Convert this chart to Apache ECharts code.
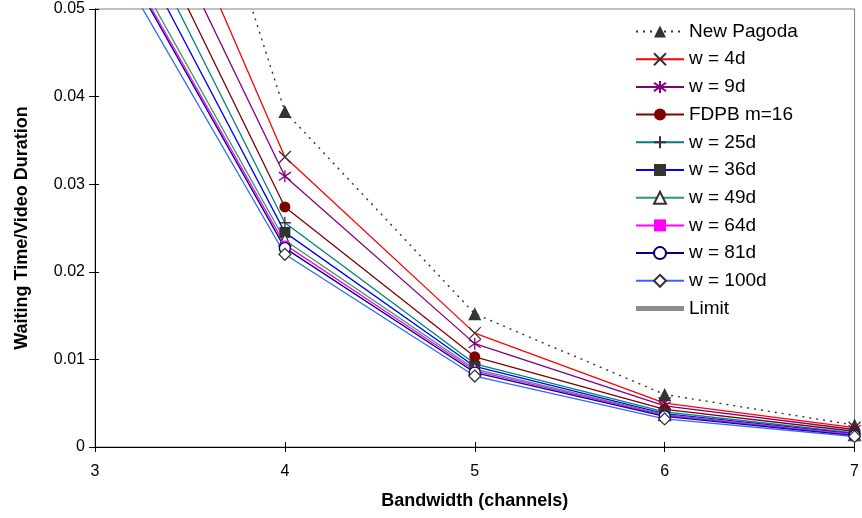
<!DOCTYPE html>
<html>
<head>
<meta charset="utf-8">
<title>Waiting time vs bandwidth</title>
<script src="https://cdn.jsdelivr.net/npm/echarts@6/dist/echarts.min.js"></script>
<style>
  html, body { margin: 0; padding: 0; background: #fff; }
  #chart { width: 862px; height: 518px; }
</style>
</head>
<body>
<div id="chart"></div>
<script>
// Bandwidth in channels
const bandwidth = [3, 4, 5, 6, 7];

// Waiting time / video duration for each scheme
const newPagoda = [0.106, 0.0383, 0.0152, 0.0060, 0.0025];
const w4d      = [0.0832, 0.0331, 0.0130, 0.0050, 0.0022];
const w9d      = [0.0758, 0.0309, 0.0118, 0.0047, 0.0020];
const fdpb16   = [0.0718, 0.0274, 0.0103, 0.0043, 0.0018];
const w25d     = [0.0688, 0.0256, 0.0095, 0.0040, 0.0016];
const w36d     = [0.0658, 0.0245, 0.0092, 0.0038, 0.0015];
const w49d     = [0.0624, 0.0236, 0.0089, 0.0037, 0.0014];
const w64d     = [0.0615, 0.0231, 0.0087, 0.0036, 0.0014];
const w81d     = [0.0612, 0.0227, 0.0085, 0.0035, 0.0013];
const w100d    = [0.0594, 0.0220, 0.0081, 0.0032, 0.0012];
const limit    = [];

const yTicks = { min: 0, max: 0.05, interval: 0.01 };
const xTicks = { min: 3, max: 7, interval: 1 };

const FONT = '"Liberation Sans", Arial, sans-serif';

const CROSS = 'path://M0,0L10,10M10,0L0,10';
const ASTER = 'path://M5,0L5,10M1.5,1.5L8.5,8.5M8.5,1.5L1.5,8.5';
const PLUS = 'path://M5,0L5,10M0,5L10,5';

function pts(values) {
  return values.map((v, i) => [bandwidth[i], v]);
}

function mk(name, values, lineColor, symbol, size, item, lineExtra) {
  return {
    name: name,
    type: 'line',
    data: pts(values),
    symbol: symbol,
    symbolSize: size,
    clip: true,
    lineStyle: Object.assign({ color: lineColor, width: 1.3 }, lineExtra || {}),
    itemStyle: item,
    emphasis: { disabled: true },
    animation: false
  };
}

const series = [
  mk('New Pagoda', newPagoda, '#333333', 'triangle', 13,
     { color: '#333333', borderWidth: 0 }, { type: [2, 5], width: 1.4 }),
  mk('w = 4d', w4d, '#ff0000', CROSS, 12,
     { color: 'none', borderColor: '#333333', borderWidth: 1.3 }),
  mk('w = 9d', w9d, '#800080', ASTER, 12,
     { color: 'none', borderColor: '#800080', borderWidth: 1.3 }),
  mk('FDPB m=16', fdpb16, '#800000', 'circle', 11,
     { color: '#800000', borderWidth: 0 }),
  mk('w = 25d', w25d, '#008080', PLUS, 12,
     { color: 'none', borderColor: '#333333', borderWidth: 1.3 }),
  mk('w = 36d', w36d, '#0000ff', 'rect', 11,
     { color: '#333333', borderWidth: 0 }),
  mk('w = 49d', w49d, '#339966', 'triangle', 12,
     { color: '#ffffff', borderColor: '#333333', borderWidth: 1.2 }),
  mk('w = 64d', w64d, '#ff00ff', 'rect', 8,
     { color: '#ff00ff', borderWidth: 0 }),
  mk('w = 81d', w81d, '#000080', 'circle', 11,
     { color: '#ffffff', borderColor: '#000080', borderWidth: 1.3 }),
  mk('w = 100d', w100d, '#3366ff', 'diamond', 12,
     { color: '#ffffff', borderColor: '#333333', borderWidth: 1.2 }),
  {
    name: 'Limit',
    type: 'line',
    data: pts(limit),
    symbol: 'none',
    lineStyle: { color: '#8c8c8c', width: 5 },
    itemStyle: { color: '#8c8c8c' },
    animation: false
  }
];

const legendNames = series.map(s => s.name);

const chart = echarts.init(document.getElementById('chart'), null, { renderer: 'canvas' });

chart.setOption({
  backgroundColor: '#ffffff',
  animation: false,
  grid: {
    left: 95, right: 6, top: 9, bottom: 71,
    show: true, borderColor: '#808080', borderWidth: 1,
    backgroundColor: 'transparent'
  },
  legend: {
    orient: 'vertical',
    left: 630, top: 17,
    itemWidth: 48, itemHeight: 15, itemGap: 8.7,
    textStyle: { fontFamily: FONT, fontSize: 19, color: '#000', padding: [0, 0, 0, 0] },
    data: legendNames.map(n => n === 'Limit'
      ? { name: n, icon: 'path://M0,0H50V5H0Z', itemStyle: { color: '#8c8c8c' } }
      : { name: n }),
    selectedMode: false,
    backgroundColor: '#ffffff'
  },
  xAxis: [{
    type: 'value',
    min: xTicks.min, max: xTicks.max, interval: xTicks.interval,
    name: 'Bandwidth (channels)',
    nameLocation: 'middle', nameGap: 45,
    nameTextStyle: { fontFamily: FONT, fontSize: 18, fontWeight: 'bold', color: '#000' },
    axisLine: { show: true, onZero: false, lineStyle: { color: '#000', width: 1 } },
    axisTick: { show: true, length: 5, lineStyle: { color: '#000' } },
    axisLabel: { fontFamily: FONT, fontSize: 16, color: '#000', margin: 17 },
    splitLine: { show: false }
  }, {
    type: 'value', position: 'bottom',
    min: xTicks.min, max: xTicks.max, interval: xTicks.interval,
    axisLine: { show: false },
    axisTick: { show: true, inside: true, length: 5, lineStyle: { color: '#000' } },
    axisLabel: { show: false },
    splitLine: { show: false }
  }],
  yAxis: [{
    type: 'value',
    min: yTicks.min, max: yTicks.max, interval: yTicks.interval,
    name: 'Waiting Time/Video Duration',
    nameLocation: 'middle', nameGap: 64,
    nameTextStyle: { fontFamily: FONT, fontSize: 18, fontWeight: 'bold', color: '#000' },
    axisLine: { show: true, onZero: false, lineStyle: { color: '#000', width: 1 } },
    axisTick: { show: true, length: 6, lineStyle: { color: '#000' } },
    axisLabel: { fontFamily: FONT, fontSize: 16, color: '#000', margin: 10 },
    splitLine: { show: false }
  }, {
    type: 'value', position: 'left',
    min: yTicks.min, max: yTicks.max, interval: yTicks.interval,
    axisLine: { show: false },
    axisTick: { show: true, inside: true, length: 4, lineStyle: { color: '#000' } },
    axisLabel: { show: false },
    splitLine: { show: false }
  }],
  series: series
});
</script>
</body>
</html>
